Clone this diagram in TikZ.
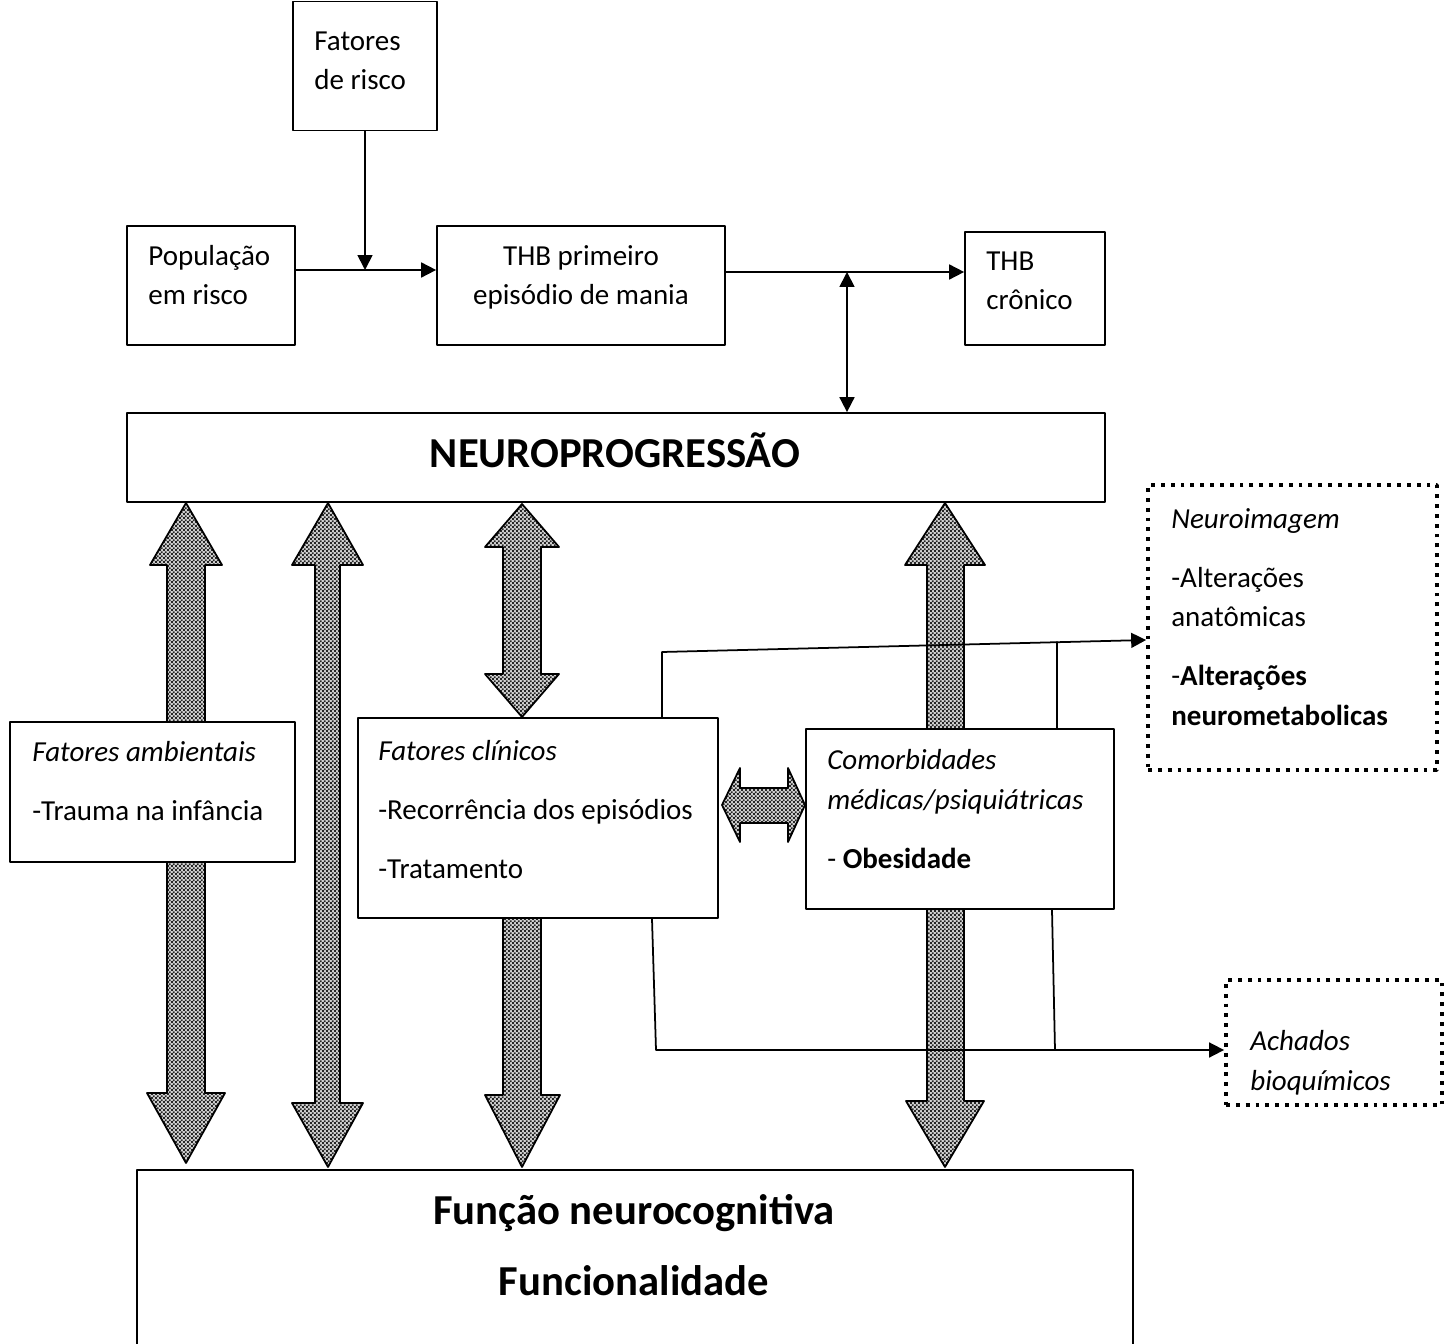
\documentclass[tikz,border=0pt]{standalone}
\usepackage{fontspec}
\setmainfont{Carlito}
\usetikzlibrary{arrows.meta, calc, patterns}
\pgfdeclarepatternformonly{finecheck}{\pgfpointorigin}{\pgfpoint{2.4pt}{2.4pt}}{\pgfpoint{2.4pt}{2.4pt}}{%
  \pgfpathrectangle{\pgfpointorigin}{\pgfpoint{1.2pt}{1.2pt}}%
  \pgfpathrectangle{\pgfpoint{1.2pt}{1.2pt}}{\pgfpoint{1.2pt}{1.2pt}}%
  \pgfusepath{fill}}

\begin{document}
\begin{tikzpicture}[line cap=round,line join=round,>={Triangle[length=8.5pt,width=8.5pt]},x=0.02cm,y=-0.02cm,
  box/.style={draw, line width=1pt, fill=white, inner sep=0pt},
  dotbox/.style={draw, line width=2.2pt, line cap=butt, dash pattern=on 2.2pt off 3.4pt, inner sep=0pt},
  txt/.style={inner sep=0pt, align=left, anchor=base west, font=\fontsize{16.5}{22.5}\selectfont},
  big/.style={inner sep=0pt, align=center, anchor=base, font=\fontsize{24.3}{40}\selectfont\bfseries},
  blockarrow/.style={draw, line width=1pt, preaction={fill=gray!35}, pattern=finecheck, pattern color=black!85},
  link/.style={line width=1pt}]
\useasboundingbox (0,0) rectangle (1451,1344);
\clip (0,0) rectangle (1451,1344);

% block arrows (behind the boxes)
\draw[blockarrow] (186,503) -- (222,565) -- (205,565) -- (205,1093) -- (225,1093) -- (186,1163)
  -- (147,1093) -- (167,1093) -- (167,565) -- (150,565) -- cycle;
\draw[blockarrow] (328,503) -- (363,565) -- (340,565) -- (340,1103) -- (363,1103) -- (328,1167)
  -- (292,1103) -- (315,1103) -- (315,565) -- (292,565) -- cycle;
\draw[blockarrow] (522,504) -- (559,547) -- (541,547) -- (541,674) -- (559,674) -- (522,717)
  -- (485,674) -- (503,674) -- (503,547) -- (485,547) -- cycle;
\draw[blockarrow] (503,900) -- (541,900) -- (541,1095) -- (560,1095) -- (522,1167)
  -- (485,1095) -- (503,1095) -- cycle;
\draw[blockarrow] (945,503) -- (985,565) -- (964,565) -- (964,1101) -- (984,1101) -- (945,1167)
  -- (906,1101) -- (927,1101) -- (927,565) -- (905,565) -- cycle;
\draw[blockarrow] (722,805) -- (740,768) -- (740,788) -- (788,788) -- (788,768) -- (805,805)
  -- (788,842) -- (788,823) -- (740,823) -- (740,842) -- cycle;

% boxes
\node[box, minimum width=2.88cm, minimum height=2.58cm] (risco) at (365,66) {};
\node[box, minimum width=3.36cm, minimum height=2.38cm] (pop) at (211,285.5) {};
\node[box, minimum width=5.76cm, minimum height=2.38cm] (thb1) at (581,285.5) {};
\node[box, minimum width=2.8cm, minimum height=2.26cm] (thbc) at (1035,288.5) {};
\node[box, minimum width=19.56cm, minimum height=1.78cm] (neuro) at (616,457.5) {};
\node[box, minimum width=5.7cm, minimum height=2.8cm] (amb) at (152.5,792) {};
\node[box, minimum width=7.2cm, minimum height=4.0cm] (clin) at (538,818) {};
\node[box, minimum width=6.16cm, minimum height=3.6cm] (comor) at (960,819) {};
\node[dotbox, minimum width=5.78cm, minimum height=5.7cm] (nimg) at (1292.5,627.5) {};
\node[dotbox, minimum width=4.32cm, minimum height=2.5cm] (bioq) at (1334,1042.5) {};
\node[box, minimum width=19.92cm, minimum height=3.8cm] (func) at (635,1265) {};

% texts (anchored at the baseline of their last line)
\node[txt] (riscoT) at (314,90) {Fatores\\de risco};
\node[txt] (popT) at (148,305) {População\\em risco};
\node[txt, align=center, anchor=base] (thb1T) at (581,305) {THB primeiro\\episódio de mania};
\node[txt] (thbcT) at (986,310) {THB\\crônico};
\node[big] (neuroT) at (615,468) {NEUROPROGRESSÃO};
\node[txt] (ambT) at (32,820) {\textit{Fatores ambientais}\\[0.38cm]-Trauma na infância};
\node[txt] (clinT) at (378,878) {\textit{Fatores clínicos}\\[0.38cm]-Recorrência dos episódios\\[0.38cm]-Tratamento};
\node[txt] (comorT) at (827,868) {\textit{Comorbidades}\\\textit{médicas/psiquiátricas}\\[0.38cm]- \textbf{Obesidade}};
\node[txt] (nimgT) at (1171,725) {\textit{Neuroimagem}\\[0.38cm]-Alterações\\anatômicas\\[0.38cm]-\textbf{Alterações}\\\textbf{neurometabolicas}};
\node[txt] (bioqT) at (1250,1090) {\textit{Achados}\\\textit{bioquímicos}};
\node[big] (funcT) at (634,1295) {Função neurocognitiva\\Funcionalidade};

% connectors
\coordinate (j1) at (365,270);
\coordinate (j2) at (847,272);
\draw[link,->] (risco.south) -- (j1);
\draw[link,->] (pop.east |- j1) -- (thb1.west |- j1);
\draw[link,->] (thb1.east |- j2) -- (thbc.west |- j2);
\draw[link,<->] (j2) -- (j2 |- neuro.north);

\coordinate (u1) at (662,652);
\coordinate (u2) at (1057,642);
\draw[link,->] (clin.north -| u1) -- (u1) -- (nimg.west |- 0,640);
\draw[link] (comor.north -| u2) -- (u2);

\coordinate (d1) at (656,1050);
\coordinate (d2) at (1055,1050);
\draw[link,->] (clin.south -| 652,0) -- (d1) -- (bioq.west |- d1);
\draw[link] (comor.south -| 1052,0) -- (d2);

\end{tikzpicture}
\end{document}
